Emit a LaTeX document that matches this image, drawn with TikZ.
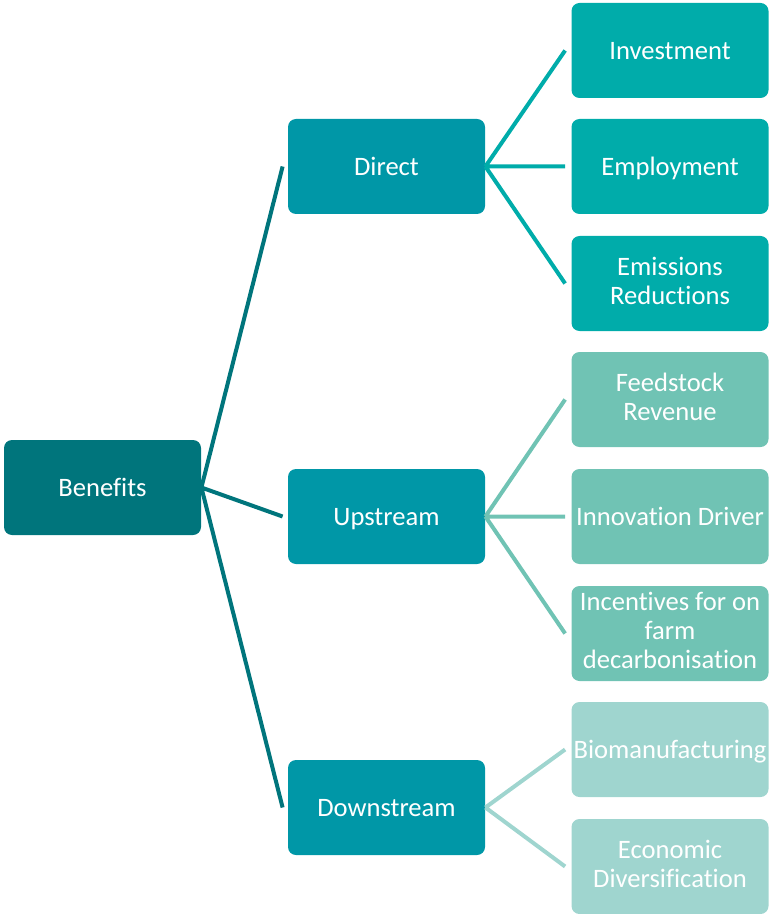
\documentclass[tikz,border=0pt]{standalone}
\usepackage{fontspec}
\setmainfont[Ligatures=CommonOff]{Carlito}
\usepackage{tikz}
\definecolor{rootteal}{RGB}{0,117,124}
\definecolor{midteal}{RGB}{0,151,167}
\definecolor{leafA}{RGB}{0,172,170}
\definecolor{leafB}{RGB}{112,195,180}
\definecolor{leafC}{RGB}{159,213,207}
% same height and depth for every first and last line
\newcommand\boxstrut{\rule[-2.75pt]{0pt}{14.5pt}}
\tikzset{box/.style = {rounded corners=4pt, minimum width=98.5pt,
  minimum height=47.5pt, inner sep=0.5pt, align=center, text=white,
  font=\fontsize{13.3}{14.5}\selectfont,
  execute at begin node=\boxstrut, execute at end node=\boxstrut},
  branch/.style = {line width=2pt}}

\begin{document}
\begin{tikzpicture}[x=0.5pt,y=-0.5pt]
  \useasboundingbox (0,0) rectangle (768,914);
  % root and the three groups
  \node[box,fill=rootteal] (Ben) at (102.5,487.5) {Benefits};
  \node[box,fill=midteal] (Dir) at (386.5,166.5) {Direct};
  \node[box,fill=midteal] (Up) at (386.5,516.5) {Upstream};
  \node[box,fill=midteal] (Down) at (386.5,807.5) {Downstream};
  % leaves
  \node[box,fill=leafA] (Inv) at (670,50.5) {Investment};
  \node[box,fill=leafA] (Emp) at (670,166.5) {Employment};
  \node[box,fill=leafA] (Emi) at (670,283.5) {Emissions\\Reductions};
  \node[box,fill=leafB] (Feed) at (670,399.5) {Feedstock\\Revenue};
  \node[box,fill=leafB] (Inno) at (670,516.5) {Innovation Driver};
  \node[box,fill=leafB] (Inc) at (670,633.5) {Incentives for on\\farm\\decarbonisation};
  \node[box,fill=leafC] (Bio) at (670,749.5) {Biomanufacturing};
  \node[box,fill=leafC] (Eco) at (670,866.5) {Economic\\Diversification};
  % connectors
  \draw[branch,rootteal] (Ben.east) -- ([xshift=-2.5pt]Dir.west)
    (Ben.east) -- ([xshift=-2.5pt]Up.west)
    (Ben.east) -- ([xshift=-2.5pt]Down.west);
  \draw[branch,leafA] (Dir.east) -- ([xshift=-3pt]Inv.west)
    (Dir.east) -- ([xshift=-3pt]Emp.west)
    (Dir.east) -- ([xshift=-3pt]Emi.west);
  \draw[branch,leafB] (Up.east) -- ([xshift=-3pt]Feed.west)
    (Up.east) -- ([xshift=-3pt]Inno.west)
    (Up.east) -- ([xshift=-3pt]Inc.west);
  \draw[branch,leafC] (Down.east) -- ([xshift=-3pt]Bio.west)
    (Down.east) -- ([xshift=-3pt]Eco.west);
\end{tikzpicture}
\end{document}
